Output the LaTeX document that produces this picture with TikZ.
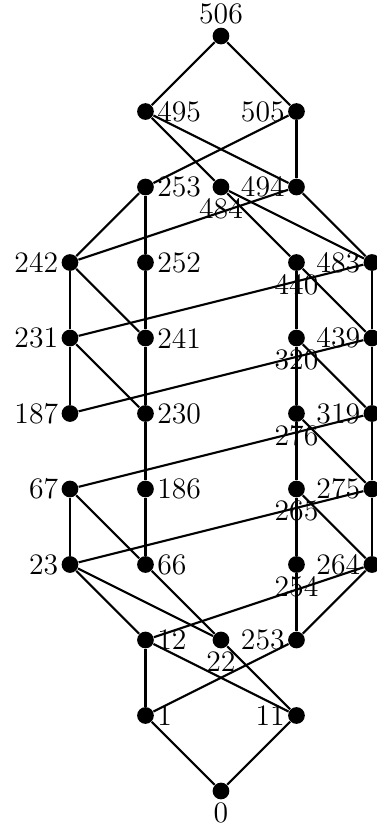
\documentclass[tikz,border=0pt]{standalone}
\usepackage{tikz}
\tikzset{
  punto/.style={
    circle,
    fill=black,
    inner sep=0pt,
    minimum size=6.3pt
  },
  etiqueta/.style={
    inner sep=0.9pt,
    font=\fontsize{11.2}{13}\selectfont
  },
  lado/.style={
    thick,
    black
  }
}

\begin{document}
\begin{tikzpicture}[x=1cm,y=1cm,label distance=0pt,every label/.style={etiqueta}]
\useasboundingbox (-0.927,-10.53) rectangle (4.066,0.477);
% nivel superior
\node[punto,label=above:{506}] (t506) at (2,0) {};
\node[punto,label=right:{495}] (t495) at (1,-1) {};
\node[punto,label=left:{505}] (t505) at (3,-1) {};
\node[punto,label=right:{253}] (t253a) at (1,-2) {};
\node[punto,label=below:{484}] (t484) at (2,-2) {};
\node[punto,label=left:{494}] (t494) at (3,-2) {};
% columnas
\node[punto,label=left:{242}] (t242) at (0,-3) {};
\node[punto,label=right:{252}] (t252) at (1,-3) {};
\node[punto,label=below:{440}] (t440) at (3,-3) {};
\node[punto,label=left:{483}] (t483) at (4,-3) {};
\node[punto,label=left:{231}] (t231) at (0,-4) {};
\node[punto,label=right:{241}] (t241) at (1,-4) {};
\node[punto,label=below:{320}] (t320) at (3,-4) {};
\node[punto,label=left:{439}] (t439) at (4,-4) {};
\node[punto,label=left:{187}] (t187) at (0,-5) {};
\node[punto,label=right:{230}] (t230) at (1,-5) {};
\node[punto,label=below:{276}] (t276) at (3,-5) {};
\node[punto,label=left:{319}] (t319) at (4,-5) {};
\node[punto,label=left:{67}] (t67) at (0,-6) {};
\node[punto,label=right:{186}] (t186) at (1,-6) {};
\node[punto,label=below:{265}] (t265) at (3,-6) {};
\node[punto,label=left:{275}] (t275) at (4,-6) {};
\node[punto,label=left:{23}] (t23) at (0,-7) {};
\node[punto,label=right:{66}] (t66) at (1,-7) {};
\node[punto,label=below:{254}] (t254) at (3,-7) {};
\node[punto,label=left:{264}] (t264) at (4,-7) {};
% nivel inferior
\node[punto,label=right:{12}] (t12) at (1,-8) {};
\node[punto,label=below:{22}] (t22) at (2,-8) {};
\node[punto,label=left:{253}] (t253b) at (3,-8) {};
\node[punto,label=right:{1}] (t1) at (1,-9) {};
\node[punto,label=left:{11}] (t11) at (3,-9) {};
\node[punto,label=below:{0}] (t0) at (2,-10) {};
\path[lado]
  (t506) edge (t495)
         edge (t505)
  (t495) edge (t484)
         edge (t494)
  (t505) edge (t253a)
         edge (t494)
  (t253a) edge (t242)
          edge (t252)
  (t484) edge (t440)
         edge (t483)
  (t494) edge (t483)
         edge (t242)
  (t242) edge (t231)
         edge (t241)
  (t252) edge (t241)
  (t440) edge (t320)
         edge (t439)
  (t483) edge (t439)
         edge (t231)
  (t231) edge (t187)
         edge (t230)
  (t241) edge (t230)
  (t320) edge (t276)
         edge (t319)
  (t439) edge (t319)
         edge (t187)
  (t230) edge (t186)
  (t276) edge (t265)
         edge (t275)
  (t319) edge (t275)
         edge (t67)
  (t67) edge (t23)
        edge (t66)
  (t186) edge (t66)
  (t265) edge (t254)
         edge (t264)
  (t275) edge (t264)
         edge (t23)
  (t23) edge (t12)
        edge (t22)
  (t66) edge (t22)
  (t254) edge (t253b)
  (t264) edge (t253b)
         edge (t12)
  (t12) edge (t1)
        edge (t11)
  (t22) edge (t11)
  (t253b) edge (t1)
  (t1) edge (t0)
  (t11) edge (t0);
\end{tikzpicture}
\end{document}
